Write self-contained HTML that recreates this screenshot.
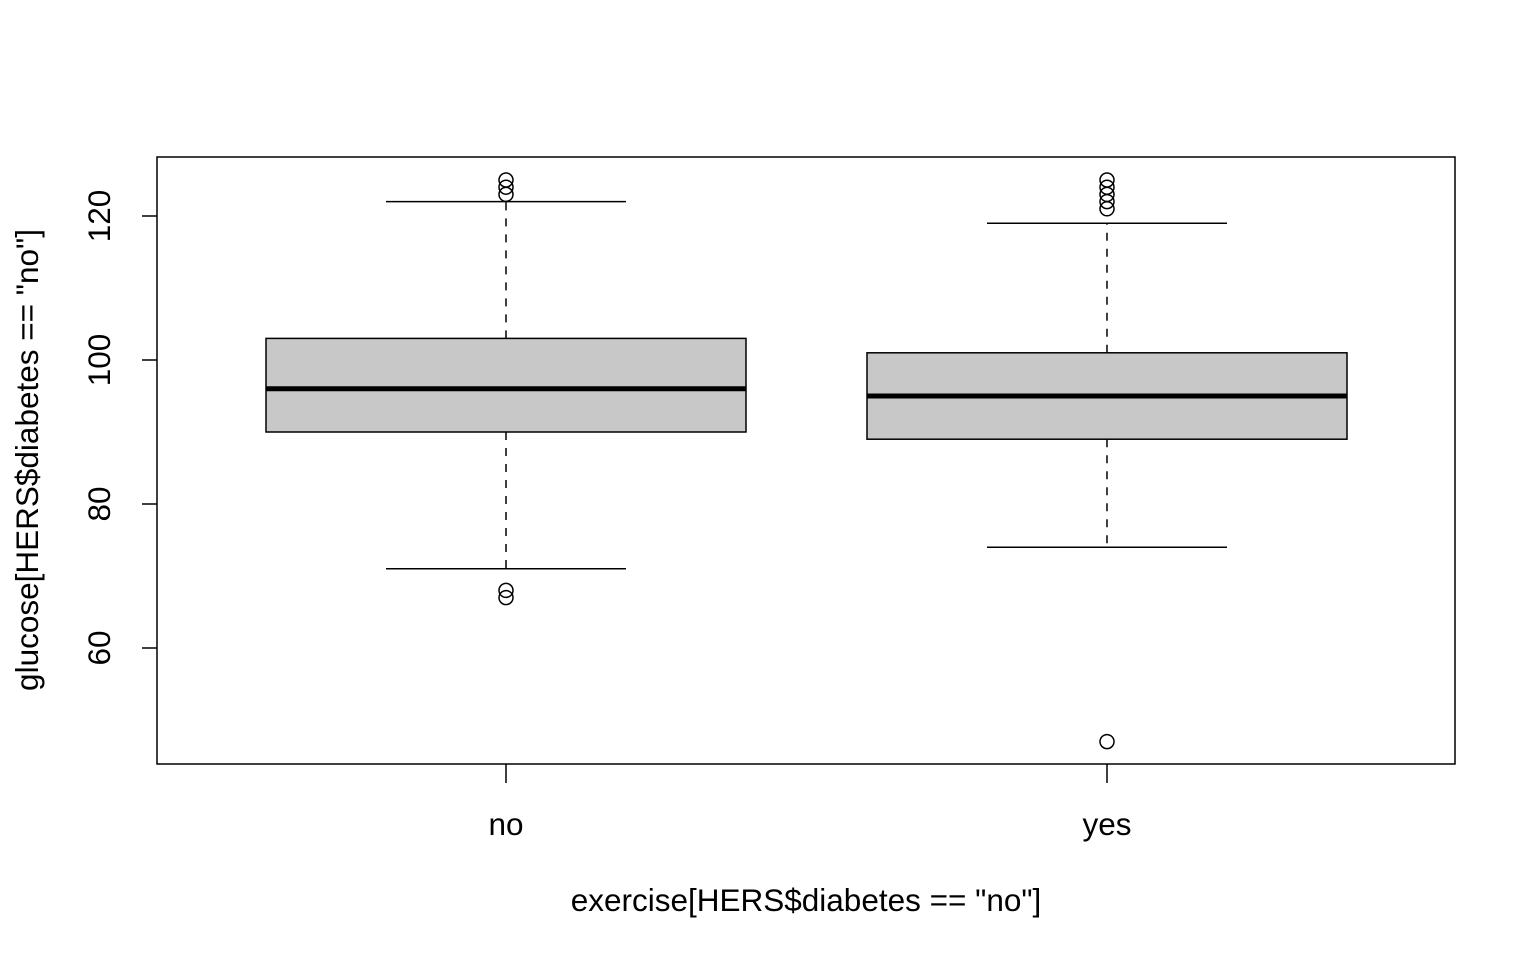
<!DOCTYPE html>
<html><head><meta charset="utf-8"><style>body{margin:0;background:#fff}svg{display:block}text{font-family:"Liberation Sans",Arial,sans-serif;font-size:31.5px;fill:#000}</style></head>
<body>
<svg id="chart" width="1536" height="960" viewBox="0 0 1536 960" xmlns="http://www.w3.org/2000/svg"></svg>
<script>
const categories = ["no", "yes"];
const q1 = [90, 89];
const medians = [96, 95];
const q3 = [103, 101];
const whiskerLow = [71, 74];
const whiskerHigh = [122, 119];
const outliers = [[67, 68, 123, 124, 125], [47, 121, 122, 123, 124, 125]];
const yTicks = [60, 80, 100, 120];

const NS = "http://www.w3.org/2000/svg";
const svg = document.getElementById("chart");
const L = 157, R = 1455, T = 157, B = 764;
const y = v => 360 - (v - 100) * 7.2;
const x = i => 506 + i * 601;
function mk(tag, attrs, parent) {
  const e = document.createElementNS(NS, tag);
  for (const k in attrs) e.setAttribute(k, attrs[k]);
  (parent || svg).appendChild(e);
  return e;
}
const frame = mk("rect", {x: L, y: T, width: R - L, height: B - T, fill: "none", stroke: "#000", "stroke-width": 1.5});



categories.forEach((c, i) => {
  const g = mk("g", {});
  
  
  const cx = x(i);
  mk("line", {x1: cx, x2: cx, y1: y(q3[i]), y2: y(whiskerHigh[i]), stroke: "#000", "stroke-width": 1.5, "stroke-dasharray": "8,8"}, g);
  mk("line", {x1: cx, x2: cx, y1: y(q1[i]), y2: y(whiskerLow[i]), stroke: "#000", "stroke-width": 1.5, "stroke-dasharray": "8,8"}, g);
  mk("line", {x1: cx - 120, x2: cx + 120, y1: y(whiskerHigh[i]), y2: y(whiskerHigh[i]), stroke: "#000", "stroke-width": 1.5}, g);
  mk("line", {x1: cx - 120, x2: cx + 120, y1: y(whiskerLow[i]), y2: y(whiskerLow[i]), stroke: "#000", "stroke-width": 1.5}, g);
  mk("rect", {x: cx - 240, y: y(q3[i]), width: 480, height: y(q1[i]) - y(q3[i]), fill: "#c8c8c8", stroke: "#000", "stroke-width": 1.5}, g);
  mk("line", {x1: cx - 240, x2: cx + 240, y1: y(medians[i]), y2: y(medians[i]), stroke: "#000", "stroke-width": 5}, g);
  outliers[i].forEach(v => {
    const o = mk("circle", {cx: cx, cy: y(v), r: 7, fill: "none", stroke: "#000", "stroke-width": 1.5}, g);
    
    
  });
  mk("line", {x1: cx, x2: cx, y1: B, y2: B + 19, stroke: "#000", "stroke-width": 1.5});
  const t = mk("text", {x: cx, y: 835, "text-anchor": "middle"});
  t.textContent = c;
  
  
});

yTicks.forEach(v => {
  mk("line", {x1: L - 15, x2: L, y1: y(v), y2: y(v), stroke: "#000", "stroke-width": 1.5});
  const t = mk("text", {x: 110, y: y(v), "text-anchor": "middle", transform: `rotate(-90 110 ${y(v)})`});
  t.textContent = v;
  
  
});

const xt = mk("text", {x: 806, y: 911, "text-anchor": "middle"});
xt.textContent = 'exercise[HERS$diabetes == "no"]';


const yt = mk("text", {x: 38, y: 460, "text-anchor": "middle", transform: "rotate(-90 38 460)"});
yt.textContent = 'glucose[HERS$diabetes == "no"]';


</script>
</body></html>
